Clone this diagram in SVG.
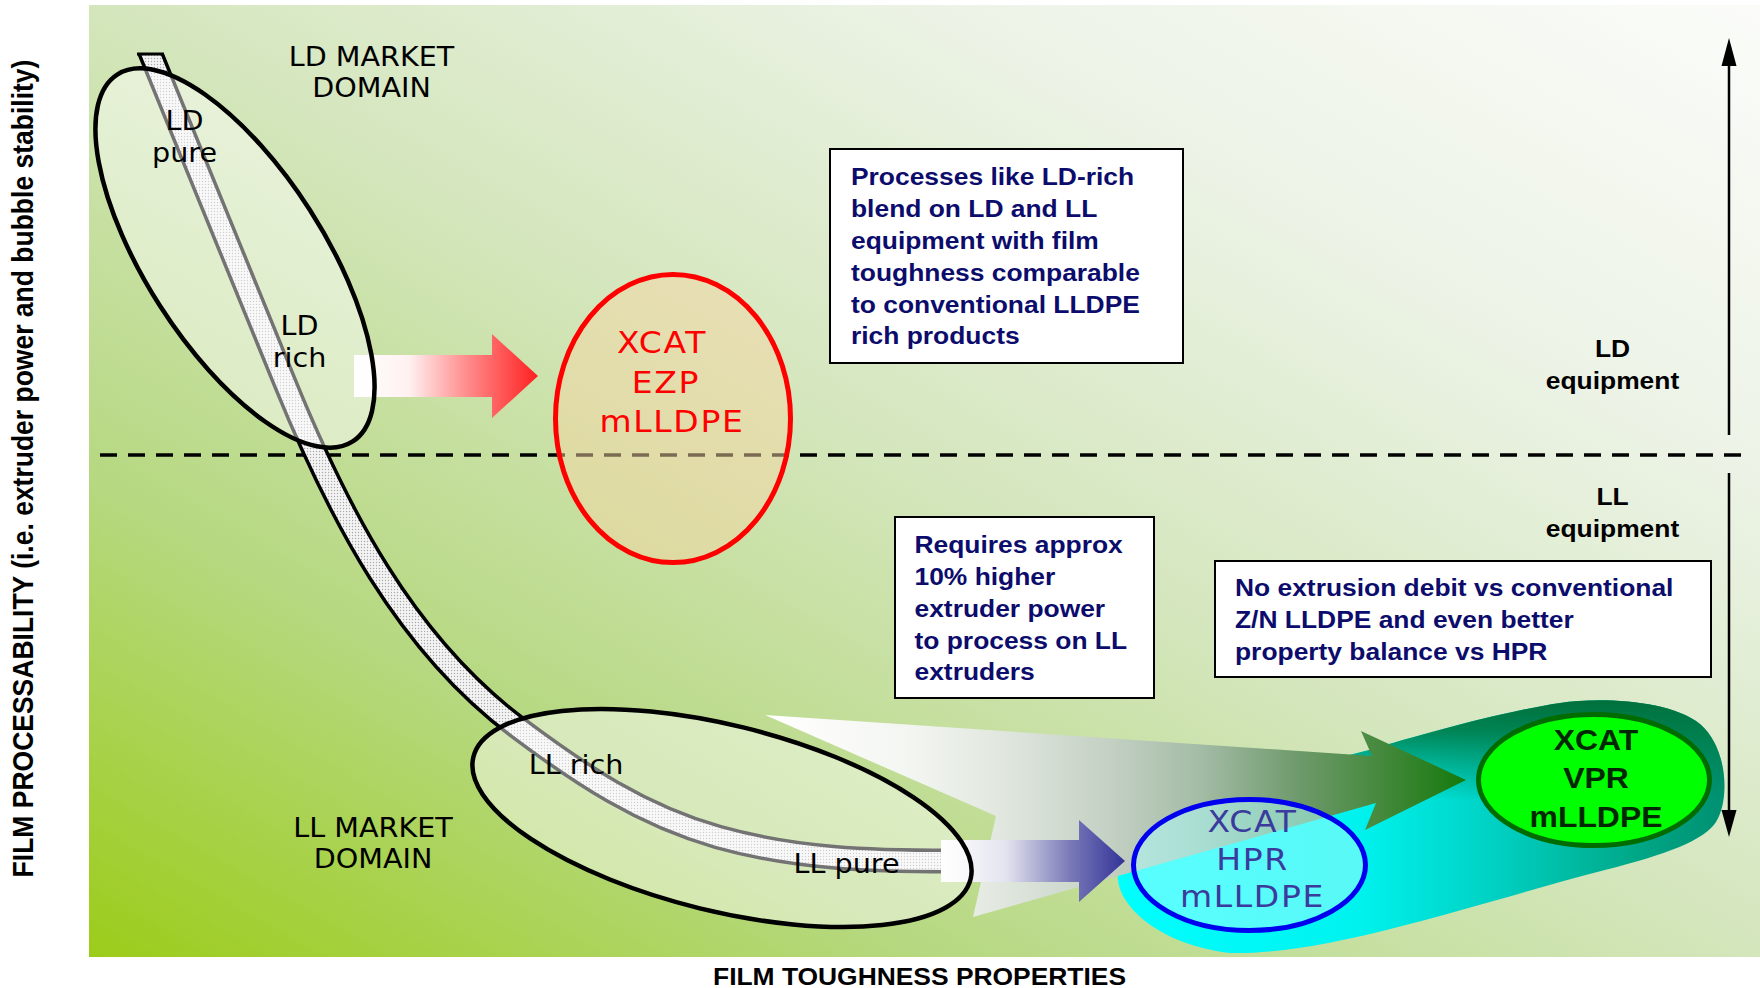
<svg xmlns="http://www.w3.org/2000/svg" width="1760" height="988" viewBox="0 0 1760 988">
<style>
.dv{font-family:"DejaVu Sans",Verdana,sans-serif;font-size:26px;fill:#000}
.b{font-family:"Liberation Sans",Arial,sans-serif;font-weight:bold}
.navy{font-size:24px;fill:#0c0c6c}
.eq{font-size:24px;fill:#000}
.box{fill:#fff;stroke:#000;stroke-width:2}
.mkt{fill:#fff;fill-opacity:0.45;stroke:#000;stroke-width:4.5}
.prod{font-family:"DejaVu Sans",Verdana,sans-serif;font-size:30px;letter-spacing:1.5px}
</style>
<defs>
<linearGradient id="gBg" x1="0" y1="1" x2="1" y2="0">
<stop offset="0" stop-color="#9ccc1a"/>
<stop offset="0.25" stop-color="#b6d880"/>
<stop offset="0.5" stop-color="#d4e6bc"/>
<stop offset="0.75" stop-color="#ecf3e6"/>
<stop offset="1" stop-color="#fbfcf9"/>
</linearGradient>
<pattern id="dots" width="3" height="3" patternUnits="userSpaceOnUse">
<rect width="3" height="3" fill="#f4f4f4"/>
<circle cx="1.5" cy="1.5" r="0.7" fill="#a8a8a8"/>
</pattern>
<clipPath id="clipTop"><rect x="0" y="53" width="1760" height="935"/></clipPath>
<path id="bandPath" d="M145,40 L285,383 C338,513 405,643 517,727 C581,775 641,815 718,837 C795,858.6 870,861 950,861" fill="none"/>
<linearGradient id="gRed" gradientUnits="userSpaceOnUse" x1="354" y1="0" x2="538" y2="0">
<stop offset="0" stop-color="#ffffff"/>
<stop offset="0.3" stop-color="#fff0f0"/>
<stop offset="0.6" stop-color="#ff9090"/>
<stop offset="1" stop-color="#ff2020"/>
</linearGradient>
<linearGradient id="gBlue" gradientUnits="userSpaceOnUse" x1="941" y1="0" x2="1125" y2="0">
<stop offset="0" stop-color="#ffffff"/>
<stop offset="0.35" stop-color="#e4e4f0"/>
<stop offset="0.7" stop-color="#7a7ab8"/>
<stop offset="1" stop-color="#333399"/>
</linearGradient>
<linearGradient id="gBig" gradientUnits="userSpaceOnUse" x1="765" y1="0" x2="1466" y2="0">
<stop offset="0" stop-color="#ffffff"/>
<stop offset="0.2" stop-color="#f4f6f2"/>
<stop offset="0.33" stop-color="#e2e8e0"/>
<stop offset="0.48" stop-color="#c6d2c6"/>
<stop offset="0.62" stop-color="#a4bca6"/>
<stop offset="0.76" stop-color="#6f9a6c"/>
<stop offset="0.9" stop-color="#3d8634"/>
<stop offset="1" stop-color="#147a0c"/>
</linearGradient>
<linearGradient id="gBlob" gradientUnits="userSpaceOnUse" x1="1118" y1="0" x2="1725" y2="0">
<stop offset="0" stop-color="#00ffff"/>
<stop offset="0.4" stop-color="#00f2ee"/>
<stop offset="0.65" stop-color="#00ccbc"/>
<stop offset="0.85" stop-color="#00a888"/>
<stop offset="1" stop-color="#009070"/>
</linearGradient>
<linearGradient id="gRim" gradientUnits="userSpaceOnUse" x1="0" y1="700" x2="0" y2="800">
<stop offset="0" stop-color="#00703c" stop-opacity="1"/>
<stop offset="0.3" stop-color="#007a46" stop-opacity="0.9"/>
<stop offset="1" stop-color="#008050" stop-opacity="0"/>
</linearGradient>
<clipPath id="blobClip"><path d="M1118,872 C1114,905 1160,945 1230,953 C1330,955 1470,905 1605,870 C1665,855 1705,840 1716,822 C1730,800 1728,748 1700,724 C1670,700 1600,697 1560,703 C1500,712 1420,735 1369,750 L1330,760 Z"/></clipPath>
</defs>

<rect id="background" x="89" y="5" width="1671" height="952" fill="url(#gBg)"/>

<line id="divider" x1="100" y1="455" x2="1742" y2="455" stroke="#000" stroke-width="3.5" stroke-dasharray="17 11"/>

<g id="blob">
<path d="M1118,872 C1114,905 1160,945 1230,953 C1330,955 1470,905 1605,870 C1665,855 1705,840 1716,822 C1730,800 1728,748 1700,724 C1670,700 1600,697 1560,703 C1500,712 1420,735 1369,750 L1330,760 Z" fill="url(#gBlob)"/>
<rect x="1300" y="690" width="440" height="120" fill="url(#gRim)" clip-path="url(#blobClip)"/>
</g>

<g id="connectors">
<polygon id="arrow-big" points="765,715 1372,756 1361,731 1466,780 1365,830 1376,803 973,917 996,816" fill="url(#gBig)"/>
<g id="band">
<g clip-path="url(#clipTop)">
<use href="#bandPath" stroke="#000" stroke-width="25"/>
<use href="#bandPath" stroke="url(#dots)" stroke-width="18"/>
</g>
<line x1="137" y1="54" x2="164" y2="54" stroke="#000" stroke-width="3"/>
</g>
<polygon id="arrow-red" points="354,355 492,355 492,334 538,376 492,418 492,397 354,397" fill="url(#gRed)"/>
<polygon id="arrow-blue" points="941,840 1079,840 1079,820 1125,861 1079,902 1079,882 941,882" fill="url(#gBlue)"/>
<g id="axis-arrows">
<line x1="1729" y1="64" x2="1729" y2="435" stroke="#000" stroke-width="2.5"/>
<polygon points="1729,38 1721.5,66 1736.5,66" fill="#000"/>
<line x1="1729" y1="473" x2="1729" y2="812" stroke="#000" stroke-width="2.5"/>
<polygon points="1729,837 1721.5,810 1736.5,810" fill="#000"/>
</g>
</g>

<g id="ld-domain">
<ellipse class="mkt" cx="235" cy="258" rx="218" ry="89" transform="rotate(57.3 235 258)"/>
<text class="dv" text-anchor="middle" transform="translate(184.5,130) scale(1.1,1)"><tspan x="0" y="0">LD</tspan><tspan x="0" y="32">pure</tspan></text>
<text class="dv" text-anchor="middle" transform="translate(299.5,335) scale(1.1,1)"><tspan x="0" y="0">LD</tspan><tspan x="0" y="32">rich</tspan></text>
</g>

<g id="ll-domain">
<ellipse class="mkt" cx="722" cy="818" rx="256" ry="93" transform="rotate(13.8 722 818)"/>
<text class="dv" text-anchor="middle" transform="translate(576,774) scale(1.1,1)">LL rich</text>
<text class="dv" text-anchor="middle" transform="translate(846.5,873) scale(1.1,1)">LL pure</text>
</g>

<g id="ld-market-label">
<text class="dv" text-anchor="middle" transform="translate(371.5,66) scale(1.1,1)"><tspan x="0" y="0">LD MARKET</tspan><tspan x="0" y="31">DOMAIN</tspan></text>
</g>
<g id="ll-market-label">
<text class="dv" text-anchor="middle" transform="translate(373,837) scale(1.1,1)"><tspan x="0" y="0">LL MARKET</tspan><tspan x="0" y="31">DOMAIN</tspan></text>
</g>

<g id="ezp">
<ellipse cx="673" cy="418.5" rx="117.5" ry="144" fill="#f6d6a4" fill-opacity="0.5" stroke="#ff0000" stroke-width="5"/>
<text class="prod" fill="#ff0000" text-anchor="middle" transform="translate(662,353) scale(1.1,1)">XCAT</text>
<text class="prod" fill="#ff0000" text-anchor="middle" transform="translate(666,393) scale(1.1,1)">EZP</text>
<text class="prod" fill="#ff0000" text-anchor="middle" transform="translate(672,432) scale(1.1,1)">mLLDPE</text>
</g>

<g id="hpr">
<ellipse cx="1249.5" cy="865" rx="116" ry="65.5" fill="#b0ffff" fill-opacity="0.5" stroke="#0000ee" stroke-width="5"/>
<text class="prod" fill="#3b3b9e" text-anchor="middle" transform="translate(1252.5,832) scale(1.1,1)"><tspan x="0" y="0">XCAT</tspan><tspan x="0" y="38">HPR</tspan><tspan x="0" y="75">mLLDPE</tspan></text>
</g>

<g id="vpr">
<ellipse cx="1594" cy="780" rx="115.5" ry="65.5" fill="#00ff00" stroke="#006c00" stroke-width="5"/>
<text class="b" font-size="29" fill="#002800" text-anchor="middle" transform="translate(1596,750) scale(1.1,1)"><tspan x="0" y="0">XCAT</tspan><tspan x="0" y="38">VPR</tspan><tspan x="0" y="77">mLLDPE</tspan></text>
</g>

<g id="note-ld-rich">
<rect class="box" x="830" y="149" width="353" height="214"/>
<text class="b navy" transform="translate(851,185) scale(1.1,1)"><tspan x="0" y="0">Processes like LD-rich</tspan><tspan x="0" y="32">blend on LD and LL</tspan><tspan x="0" y="64">equipment with film</tspan><tspan x="0" y="96">toughness comparable</tspan><tspan x="0" y="128">to conventional LLDPE</tspan><tspan x="0" y="159">rich products</tspan></text>
</g>

<g id="note-power">
<rect class="box" x="895" y="517" width="259" height="181"/>
<text class="b navy" transform="translate(914.5,553) scale(1.1,1)"><tspan x="0" y="0">Requires approx</tspan><tspan x="0" y="32">10% higher</tspan><tspan x="0" y="64">extruder power</tspan><tspan x="0" y="96">to process on LL</tspan><tspan x="0" y="127">extruders</tspan></text>
</g>

<g id="note-vpr">
<rect class="box" x="1215" y="561" width="496" height="116"/>
<text class="b navy" transform="translate(1235,596) scale(1.1,1)"><tspan x="0" y="0">No extrusion debit vs conventional</tspan><tspan x="0" y="32">Z/N LLDPE and even better</tspan><tspan x="0" y="64">property balance vs HPR</tspan></text>
</g>

<g id="ld-equipment">
<text class="b eq" text-anchor="middle" transform="translate(1612.5,357) scale(1.1,1)"><tspan x="0" y="0">LD</tspan><tspan x="0" y="32">equipment</tspan></text>
</g>
<g id="ll-equipment">
<text class="b eq" text-anchor="middle" transform="translate(1612.5,505) scale(1.1,1)"><tspan x="0" y="0">LL</tspan><tspan x="0" y="32">equipment</tspan></text>
</g>

<g id="axis-x">
<text class="b" font-size="24" fill="#000" text-anchor="middle" transform="translate(919.5,985) scale(1.1,1)">FILM TOUGHNESS PROPERTIES</text>
</g>
<g id="axis-y">
<text class="b" font-size="26.5" fill="#000" text-anchor="middle" transform="translate(33,468.5) rotate(-90) scale(1,1.1)">FILM PROCESSABILITY (i.e. extruder power and bubble stability)</text>
</g>
</svg>
